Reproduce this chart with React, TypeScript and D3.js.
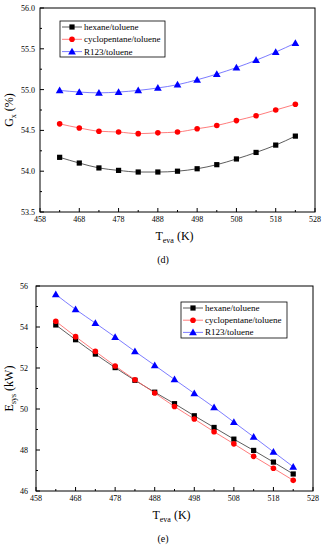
import React, { useEffect, useRef } from 'react'
import * as d3 from 'd3'

const teva = [463, 468, 473, 478, 483, 488, 493, 498, 503, 508, 513, 518, 523]
const seriesNames = ['hexane/toluene', 'cyclopentane/toluene', 'R123/toluene']

// (d) G_x (%)
const gxHexane = [54.17, 54.1, 54.04, 54.01, 53.99, 53.99, 54.0, 54.03, 54.08, 54.15, 54.23, 54.32, 54.43]
const gxCyclo = [54.58, 54.53, 54.49, 54.48, 54.46, 54.47, 54.48, 54.52, 54.56, 54.62, 54.68, 54.75, 54.82]
const gxR123 = [54.99, 54.97, 54.96, 54.97, 54.99, 55.02, 55.06, 55.12, 55.19, 55.27, 55.36, 55.46, 55.57]

// (e) E_sys (kW)
const eHexane = [54.1, 53.38, 52.68, 52.02, 51.4, 50.82, 50.26, 49.67, 49.1, 48.53, 47.98, 47.41, 46.83]
const eCyclo = [54.28, 53.53, 52.81, 52.1, 51.43, 50.78, 50.12, 49.51, 48.89, 48.3, 47.69, 47.11, 46.52]
const eR123 = [55.59, 54.86, 54.19, 53.51, 52.81, 52.13, 51.44, 50.76, 50.08, 49.36, 48.64, 47.91, 47.18]

const xTicks = [458, 468, 478, 488, 498, 508, 518, 528]
const gxTicks = [53.5, 54.0, 54.5, 55.0, 55.5, 56.0]
const eTicks = [46, 48, 50, 52, 54, 56]

const lineColors = ['#333', '#ff5a5a', '#5a5aff']
const markColors = ['#000', '#ff0000', '#0000ff']
const FONT = '"Liberation Serif", "DejaVu Serif", serif'

function drawChart(svg, opt) {
  const x = d3.scaleLinear().domain([458, 528]).range([opt.left, opt.right])
  const y = d3.scaleLinear().domain(opt.yDomain).range([opt.bottom, opt.top])
  const g = svg.append('g')

  // ticks (inward)
  const minorX = d3.range(463, 528, 10)
  xTicks.forEach(t => g.append('line').attr('x1', x(t)).attr('x2', x(t)).attr('y1', opt.bottom).attr('y2', opt.bottom - 4).attr('stroke', '#000'))
  minorX.forEach(t => g.append('line').attr('x1', x(t)).attr('x2', x(t)).attr('y1', opt.bottom).attr('y2', opt.bottom - 2).attr('stroke', '#000'))
  opt.yTicks.forEach(t => g.append('line').attr('x1', opt.left).attr('x2', opt.left + 4).attr('y1', y(t)).attr('y2', y(t)).attr('stroke', '#000'))
  opt.yMinor.forEach(t => g.append('line').attr('x1', opt.left).attr('x2', opt.left + 2).attr('y1', y(t)).attr('y2', y(t)).attr('stroke', '#000'))

  g.append('rect').attr('x', opt.left).attr('y', opt.top).attr('width', opt.right - opt.left).attr('height', opt.bottom - opt.top)
    .attr('fill', 'none').attr('stroke', '#000').attr('stroke-width', 1)

  xTicks.forEach(t => g.append('text').attr('x', x(t)).attr('y', opt.bottom + 10).attr('text-anchor', 'middle')
    .attr('font-size', 8).attr('font-family', FONT).text(t))
  opt.yTicks.forEach(t => g.append('text').attr('x', opt.left - opt.yLabelGap).attr('y', y(t) + 3).attr('text-anchor', 'end')
    .attr('font-size', 8).attr('font-family', FONT).text(opt.yFormat(t)))

  // axis titles
  const xt = g.append('text').attr('x', (opt.left + opt.right) / 2 - 3).attr('y', opt.bottom + 28).attr('text-anchor', 'middle')
    .attr('font-size', 12).attr('font-family', FONT)
  xt.append('tspan').text('T')
  xt.append('tspan').attr('font-size', 8).attr('dy', 3).text('eva')
  xt.append('tspan').attr('dy', -3).text(' (K)')

  const yt = g.append('text').attr('transform', `translate(${opt.yTitleX},${(opt.top + opt.bottom) / 2}) rotate(-90)`)
    .attr('text-anchor', 'middle').attr('font-size', 12).attr('font-family', FONT)
  yt.append('tspan').text(opt.yTitle[0])
  yt.append('tspan').attr('font-size', 8).attr('dy', 3).text(opt.yTitle[1])
  yt.append('tspan').attr('dy', -3).text(opt.yTitle[2])

  g.append('text').attr('x', opt.captionX).attr('y', opt.bottom + 51).attr('text-anchor', 'middle')
    .attr('font-size', 10).attr('font-family', FONT).text(opt.caption)

  const line = d3.line().x(d => x(d[0])).y(d => y(d[1])).curve(d3.curveMonotoneX)
  const marker = (sel, i, cx, cy) => {
    if (i === 0) sel.append('rect').attr('x', cx - 2.6).attr('y', cy - 2.6).attr('width', 5.2).attr('height', 5.2).attr('fill', markColors[i])
    else if (i === 1) sel.append('circle').attr('cx', cx).attr('cy', cy).attr('r', 2.8).attr('fill', markColors[i])
    else sel.append('path').attr('d', d3.symbol(d3.symbolTriangle, 26)()).attr('transform', `translate(${cx},${cy + 0.6})`).attr('fill', markColors[i])
  }
  opt.series.forEach((vals, i) => {
    const pts = teva.map((t, j) => [t, vals[j]])
    g.append('path').attr('d', line(pts)).attr('fill', 'none').attr('stroke', lineColors[i]).attr('stroke-width', 0.8)
    pts.forEach(p => marker(g, i, x(p[0]), y(p[1])))
  })

  // legend
  const L = opt.legend
  g.append('rect').attr('x', L.x).attr('y', L.y).attr('width', L.w).attr('height', L.h).attr('fill', '#fff').attr('stroke', '#000').attr('stroke-width', 0.8)
  seriesNames.forEach((name, i) => {
    const ry = L.y + 6 + i * L.step
    g.append('line').attr('x1', L.x + 2).attr('x2', L.x + 22).attr('y1', ry).attr('y2', ry).attr('stroke', lineColors[i]).attr('stroke-width', 0.8)
    marker(g, i, L.x + 12, ry)
    g.append('text').attr('x', L.x + 24).attr('y', ry + 3).attr('font-size', 9).attr('font-family', FONT).text(name)
  })
}

export default function App() {
  const ref = useRef(null)
  useEffect(() => {
    const svg = d3.select(ref.current)
    svg.selectAll('*').remove()
    drawChart(svg, {
      left: 40, right: 315, top: 8, bottom: 212,
      yDomain: [53.5, 56.0], yTicks: gxTicks, yMinor: d3.range(53.75, 56, 0.5),
      yFormat: d3.format('.1f'), yLabelGap: 5, yTitleX: 13,
      yTitle: ['G', 'x', ' (%)'], caption: '(d)', captionX: 163,
      series: [gxHexane, gxCyclo, gxR123],
      legend: { x: 60, y: 21, w: 105, h: 36, step: 12.3 },
    })
    drawChart(svg, {
      left: 36, right: 313, top: 286, bottom: 491,
      yDomain: [46, 56], yTicks: eTicks, yMinor: d3.range(47, 56, 2),
      yFormat: d3.format('d'), yLabelGap: 8, yTitleX: 13,
      yTitle: ['E', 'sys', ' (kW)'], caption: '(e)', captionX: 163,
      series: [eHexane, eCyclo, eR123],
      legend: { x: 181, y: 302, w: 106, h: 36, step: 12.2 },
    })
  }, [])
  return (
    <svg ref={ref} width={328} height={550} style={{ position: 'absolute', left: 0, top: 0, background: '#fff' }} />
  )
}
